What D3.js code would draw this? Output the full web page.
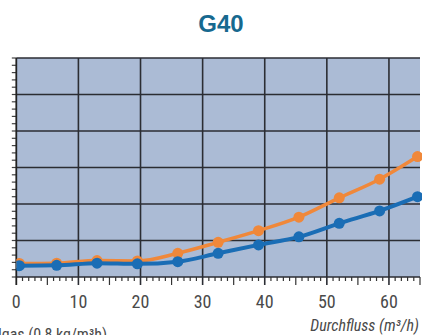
<!DOCTYPE html>
<html><head><meta charset="utf-8">
<script src="https://cdn.jsdelivr.net/npm/d3@7"></script>
<style>
html,body{margin:0;padding:0;background:#fff;overflow:hidden}
text{font-family:"Liberation Sans Narrow","Roboto Condensed","DejaVu Sans Condensed","Liberation Sans",sans-serif}
</style></head><body>
<svg id="c" width="422" height="335"></svg>
<script>
const title = "G40";
const xLabel = "Durchfluss (m³/h)";
const gasLabel = "Erdgas (0,8 kg/m³h)";
const flow = [0.5, 6.5, 13, 19.5, 26, 32.5, 39, 45.5, 52, 58.5, 64.6];
const seriesOrange = [3.7, 3.8, 4.5, 4.4, 6.5, 9.5, 12.7, 16.4, 21.7, 26.8, 33.0];
const seriesBlue = [3.1, 3.2, 3.8, 3.6, 4.2, 6.5, 8.8, 11.0, 14.7, 18.1, 22.0];
const xTicks = [0, 10, 20, 30, 40, 50, 60];
const yGrid = [0, 10, 20, 30, 40, 50, 60];

const svg = d3.select("#c");
const L = 16.3, R = 420, T = 58, B = 277;
const x = d3.scaleLinear().domain([0, 65]).range([L, R]);
const y = d3.scaleLinear().domain([0, 60]).range([B, T]);

svg.append("rect").attr("x", L).attr("y", T).attr("width", R - L).attr("height", B - T).attr("fill", "#abbbd5");

const g = svg.append("g");
g.selectAll("line.h").data(yGrid).join("line")
  .attr("x1", L).attr("x2", R).attr("y1", d => y(d)).attr("y2", d => y(d))
  .attr("stroke", "#2b2d33").attr("stroke-width", 1.6);
g.selectAll("line.v").data(xTicks.filter(d => d > 0)).join("line")
  .attr("x1", d => x(d)).attr("x2", d => x(d)).attr("y1", T).attr("y2", B + 8)
  .attr("stroke", "#2b2d33").attr("stroke-width", 1.6);

const minorX = d3.range(1, 66).filter(d => d % 10 !== 0);
g.selectAll("line.mx").data(minorX).join("line")
  .attr("x1", d => x(d)).attr("x2", d => x(d)).attr("y1", B)
  .attr("y2", d => d % 5 === 0 ? B + 8 : B + 4)
  .attr("stroke", "#333").attr("stroke-width", 1.2);

const minorY = d3.range(0, 61, 2);
g.selectAll("line.my").data(minorY).join("line")
  .attr("x1", L - 4.5).attr("x2", L).attr("y1", d => y(d)).attr("y2", d => y(d))
  .attr("stroke", "#444").attr("stroke-width", 1.2);

g.append("line").attr("x1", L).attr("x2", L).attr("y1", T).attr("y2", B + 8)
  .attr("stroke", "#222").attr("stroke-width", 1.8);

svg.selectAll("text.xl").data(xTicks).join("text")
  .attr("x", d => x(d)).attr("y", 308).attr("text-anchor", "middle")
  .attr("font-size", 18).attr("fill", "#4a4a4a").text(d => d);

const line = d3.line().x(d => x(d[0])).y(d => y(d[1])).curve(d3.curveMonotoneX);
const series = [
  {vals: seriesOrange, color: "#f0883a", w: 3.5},
  {vals: seriesBlue, color: "#1a6db5", w: 4}
];
svg.append("clipPath").attr("id", "pc").append("rect")
  .attr("x", L).attr("y", T - 10).attr("width", R - L + 2).attr("height", B - T + 10);
series.forEach(s => {
  const pts = flow.map((f, i) => [f, s.vals[i]]);
  const sg = svg.append("g").attr("clip-path", "url(#pc)");
  sg.append("path").attr("d", line(pts)).attr("fill", "none")
    .attr("stroke", s.color).attr("stroke-width", s.w).attr("stroke-linejoin", "round");
  sg.selectAll("circle").data(pts).join("circle")
    .attr("cx", d => x(d[0])).attr("cy", d => y(d[1])).attr("r", 5.5).attr("fill", s.color);
});

svg.append("text").attr("x", 221).attr("y", 32).attr("text-anchor", "middle")
  .attr("font-size", 24).attr("font-weight", "bold").attr("fill", "#17698f")
  .style("font-family", "'Liberation Sans', Arial, sans-serif").text(title);

svg.append("text").attr("x", 419).attr("y", 331).attr("text-anchor", "end")
  .attr("font-size", 16).attr("font-style", "italic").attr("fill", "#4a4a4a").text(xLabel);

svg.append("text").attr("x", 107).attr("y", 340).attr("text-anchor", "end")
  .attr("font-size", 16).attr("fill", "#4a4a4a").text(gasLabel);
</script></body></html>
